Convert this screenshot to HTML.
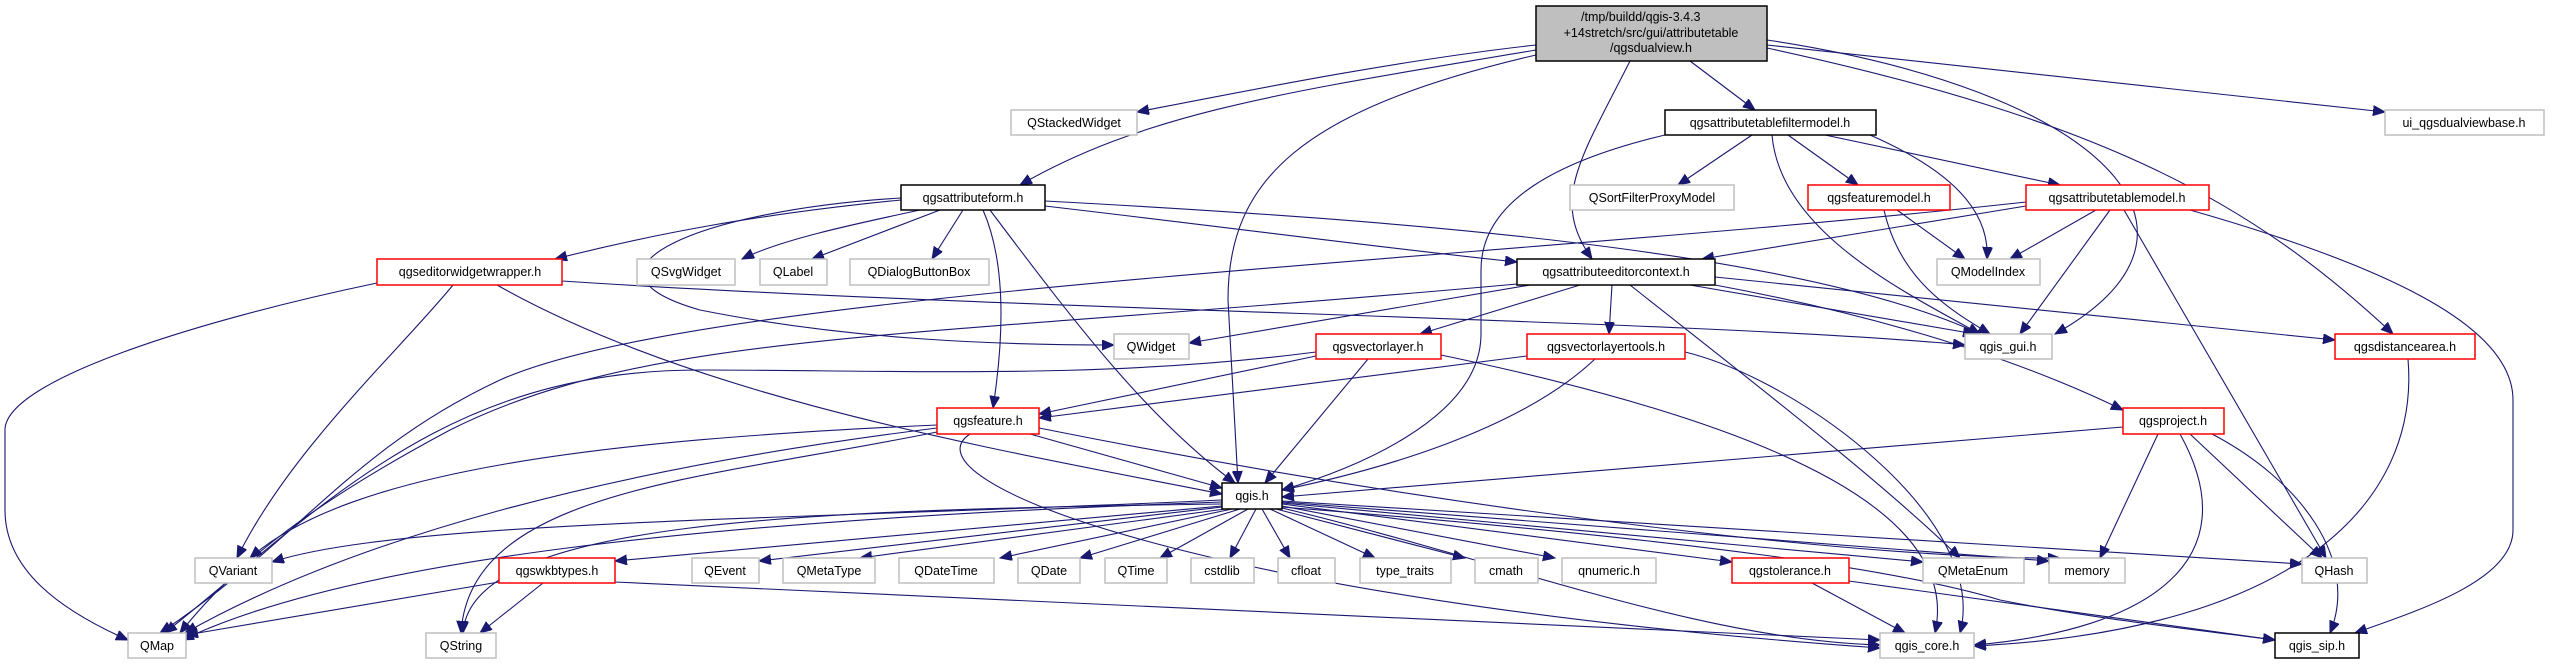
<!DOCTYPE html>
<html><head><meta charset="utf-8"><style>
html,body{margin:0;padding:0;background:#fff;}
svg{display:block;}
text{font-family:"Liberation Sans",sans-serif;font-size:12.5px;fill:#000;text-anchor:middle;}
.e{fill:none;stroke:#191970;stroke-width:1.1;marker-end:url(#a);}
.g{fill:#fff;stroke:#bfbfbf;stroke-width:1.5;}
.r{fill:#fff;stroke:#ff0000;stroke-width:1.5;}
.k{fill:#fff;stroke:#000;stroke-width:1.5;}
</style></head><body>
<svg width="2552" height="664" viewBox="0 0 2552 664" xmlns="http://www.w3.org/2000/svg">
<defs><marker id="a" markerUnits="userSpaceOnUse" markerWidth="14" markerHeight="12" refX="12" refY="5" orient="auto"><path d="M0,0 L12,5 L0,10 z" fill="#191970" stroke="#191970"/></marker></defs>
<g>
<path class="e" d="M1536,45 C1400,60 1250,90 1137,112"/>
<path class="e" d="M1536,50 C1300,90 1150,110 1020,185"/>
<path class="e" d="M1536,55 C1300,110 1228,180 1228,300 L1238,483"/>
<path class="e" d="M1630,61 C1580,160 1550,200 1592,259"/>
<path class="e" d="M1690,61 L1755,110"/>
<path class="e" d="M1767,45 C2000,70 2200,90 2385,112"/>
<path class="e" d="M1767,40 C2100,90 2240,230 2055,334"/>
<path class="e" d="M1767,48 C2100,120 2250,200 2393,334"/>
<path class="e" d="M901,200 C750,215 650,235 555,259"/>
<path class="e" d="M920,210 C850,225 780,240 742,259"/>
<path class="e" d="M940,210 L812,259"/>
<path class="e" d="M963,210 L932,259"/>
<path class="e" d="M1045,206 C1250,230 1400,250 1517,262"/>
<path class="e" d="M1045,201 C1400,220 1800,250 1980,334"/>
<path class="e" d="M901,198 C700,210 560,270 700,310 C850,340 1000,345 1114,345"/>
<path class="e" d="M983,210 C1005,260 1005,330 993,408"/>
<path class="e" d="M990,210 C1080,330 1150,420 1235,483"/>
<path class="e" d="M1752,135 L1678,185"/>
<path class="e" d="M1788,135 L1858,185"/>
<path class="e" d="M1825,135 L2060,185"/>
<path class="e" d="M1870,135 C1950,170 1990,210 1987,259"/>
<path class="e" d="M1772,135 C1780,230 1900,290 1980,334"/>
<path class="e" d="M1665,135 C1560,160 1481,200 1481,270 L1481,335 C1480,420 1350,470 1282,490"/>
<path class="e" d="M1897,210 L1965,259"/>
<path class="e" d="M1884,210 C1900,280 1950,310 1990,334"/>
<path class="e" d="M2026,206 L1702,259"/>
<path class="e" d="M2026,202 C1500,260 700,290 500,380 C350,450 300,540 160,633"/>
<path class="e" d="M2096,210 L2010,259"/>
<path class="e" d="M2110,210 L2020,334"/>
<path class="e" d="M2124,210 L2326,558"/>
<path class="e" d="M2190,210 C2400,270 2513,330 2513,400 L2513,530 C2513,580 2420,610 2355,633"/>
<path class="e" d="M562,281 C1000,310 1700,320 1965,345"/>
<path class="e" d="M453,285 C400,350 290,450 237,558"/>
<path class="e" d="M497,285 C700,400 1000,450 1222,494"/>
<path class="e" d="M377,283 C200,320 5,380 5,430 L5,510 C5,570 60,610 128,640"/>
<path class="e" d="M1530,285 L1189,343"/>
<path class="e" d="M1690,285 L1975,334"/>
<path class="e" d="M1580,285 L1420,334"/>
<path class="e" d="M1612,285 L1609,334"/>
<path class="e" d="M1715,277 L2335,340"/>
<path class="e" d="M1715,285 C1850,310 2000,350 2123,410"/>
<path class="e" d="M1630,285 C1750,380 1880,480 1960,558"/>
<path class="e" d="M1517,284 C900,340 650,330 450,430 C300,510 230,570 180,633"/>
<path class="e" d="M1316,352 C1100,380 900,370 700,370 C450,370 330,500 165,633"/>
<path class="e" d="M1316,356 L1039,414"/>
<path class="e" d="M1368,359 L1265,483"/>
<path class="e" d="M1441,355 C1800,430 1960,520 1935,633"/>
<path class="e" d="M1527,356 L1039,418"/>
<path class="e" d="M1595,359 C1520,430 1380,470 1282,490"/>
<path class="e" d="M1685,352 C1800,380 1990,520 1960,633"/>
<path class="e" d="M1030,434 L1222,488"/>
<path class="e" d="M937,425 C600,440 350,470 250,558"/>
<path class="e" d="M937,428 C600,470 350,540 185,633"/>
<path class="e" d="M937,432 C700,480 470,490 461,633"/>
<path class="e" d="M970,434 C900,480 1200,600 1880,648"/>
<path class="e" d="M1039,428 C1500,520 1900,560 2060,558"/>
<path class="e" d="M2123,427 L1282,497"/>
<path class="e" d="M2158,434 L2100,558"/>
<path class="e" d="M2190,434 L2322,558"/>
<path class="e" d="M2180,434 C2250,560 2150,630 1974,645"/>
<path class="e" d="M2212,434 C2300,480 2360,560 2330,633"/>
<path class="e" d="M2408,359 C2420,500 2300,630 1974,646"/>
<path class="e" d="M1222,500 C800,520 400,520 272,562"/>
<path class="e" d="M1222,502 C700,520 350,560 182,640"/>
<path class="e" d="M1222,504 C800,510 470,520 463,633"/>
<path class="e" d="M1222,506 L615,561"/>
<path class="e" d="M1222,507 L759,561"/>
<path class="e" d="M1225,509 L860,558"/>
<path class="e" d="M1232,509 L1000,558"/>
<path class="e" d="M1240,509 L1080,558"/>
<path class="e" d="M1248,509 L1160,558"/>
<path class="e" d="M1256,509 L1230,558"/>
<path class="e" d="M1262,509 L1290,558"/>
<path class="e" d="M1270,509 L1375,558"/>
<path class="e" d="M1276,509 L1465,558"/>
<path class="e" d="M1282,506 L1555,558"/>
<path class="e" d="M1282,504 L1732,562"/>
<path class="e" d="M1282,503 L1923,562"/>
<path class="e" d="M1282,502 L2049,561"/>
<path class="e" d="M1282,501 L2302,564"/>
<path class="e" d="M1282,508 C1500,560 1700,640 1880,645"/>
<path class="e" d="M1282,507 C1700,540 1900,570 2000,600 C2100,620 2200,630 2275,640"/>
<path class="e" d="M499,582 L186,635"/>
<path class="e" d="M543,583 L480,633"/>
<path class="e" d="M615,582 L1880,640"/>
<path class="e" d="M1812,583 L1905,633"/>
<path class="e" d="M1849,581 L2275,640"/>
</g>
<g>
<rect x="1536" y="6" width="231" height="55" fill="#bfbfbf" stroke="#000" stroke-width="1.5"/>
<text x="1581" y="21" style="text-anchor:start">/tmp/buildd/qgis-3.4.3</text>
<text x="1651" y="37">+14stretch/src/gui/attributetable</text>
<text x="1651" y="52">/qgsdualview.h</text>

<rect class="g" x="1011" y="110" width="126" height="25"/><text x="1074" y="127">QStackedWidget</text>
<rect class="k" x="1665" y="110" width="211" height="25"/><text x="1770" y="127">qgsattributetablefiltermodel.h</text>
<rect class="g" x="2385" y="110" width="159" height="25"/><text x="2464" y="127">ui_qgsdualviewbase.h</text>

<rect class="k" x="901" y="185" width="144" height="25"/><text x="973" y="202">qgsattributeform.h</text>
<rect class="g" x="1570" y="185" width="164" height="25"/><text x="1652" y="202">QSortFilterProxyModel</text>
<rect class="r" x="1808" y="185" width="142" height="25"/><text x="1879" y="202">qgsfeaturemodel.h</text>
<rect class="r" x="2026" y="185" width="183" height="25"/><text x="2117" y="202">qgsattributetablemodel.h</text>

<rect class="r" x="377" y="259" width="185" height="26"/><text x="470" y="276">qgseditorwidgetwrapper.h</text>
<rect class="g" x="637" y="259" width="98" height="26"/><text x="686" y="276">QSvgWidget</text>
<rect class="g" x="760" y="259" width="67" height="26"/><text x="793" y="276">QLabel</text>
<rect class="g" x="850" y="259" width="139" height="26"/><text x="919" y="276">QDialogButtonBox</text>
<rect class="k" x="1517" y="259" width="198" height="26"/><text x="1616" y="276">qgsattributeeditorcontext.h</text>
<rect class="g" x="1937" y="259" width="103" height="26"/><text x="1988" y="276">QModelIndex</text>

<rect class="g" x="1114" y="334" width="75" height="25"/><text x="1151" y="351">QWidget</text>
<rect class="r" x="1316" y="334" width="125" height="25"/><text x="1378" y="351">qgsvectorlayer.h</text>
<rect class="r" x="1527" y="334" width="158" height="25"/><text x="1606" y="351">qgsvectorlayertools.h</text>
<rect class="g" x="1965" y="334" width="87" height="25"/><text x="2008" y="351">qgis_gui.h</text>
<rect class="r" x="2335" y="334" width="140" height="25"/><text x="2405" y="351">qgsdistancearea.h</text>

<rect class="r" x="937" y="408" width="102" height="26"/><text x="988" y="425">qgsfeature.h</text>
<rect class="r" x="2123" y="408" width="101" height="26"/><text x="2173" y="425">qgsproject.h</text>

<rect class="k" x="1222" y="483" width="60" height="26"/><text x="1252" y="500">qgis.h</text>

<rect class="g" x="195" y="558" width="77" height="25"/><text x="233" y="575">QVariant</text>
<rect class="r" x="499" y="558" width="116" height="25"/><text x="557" y="575">qgswkbtypes.h</text>
<rect class="g" x="692" y="558" width="67" height="25"/><text x="725" y="575">QEvent</text>
<rect class="g" x="783" y="558" width="92" height="25"/><text x="829" y="575">QMetaType</text>
<rect class="g" x="899" y="558" width="95" height="25"/><text x="946" y="575">QDateTime</text>
<rect class="g" x="1018" y="558" width="62" height="25"/><text x="1049" y="575">QDate</text>
<rect class="g" x="1105" y="558" width="62" height="25"/><text x="1136" y="575">QTime</text>
<rect class="g" x="1191" y="558" width="63" height="25"/><text x="1222" y="575">cstdlib</text>
<rect class="g" x="1278" y="558" width="57" height="25"/><text x="1306" y="575">cfloat</text>
<rect class="g" x="1360" y="558" width="91" height="25"/><text x="1405" y="575">type_traits</text>
<rect class="g" x="1475" y="558" width="63" height="25"/><text x="1506" y="575">cmath</text>
<rect class="g" x="1562" y="558" width="94" height="25"/><text x="1609" y="575">qnumeric.h</text>
<rect class="r" x="1732" y="558" width="117" height="25"/><text x="1790" y="575">qgstolerance.h</text>
<rect class="g" x="1923" y="558" width="101" height="25"/><text x="1973" y="575">QMetaEnum</text>
<rect class="g" x="2049" y="558" width="76" height="25"/><text x="2087" y="575">memory</text>
<rect class="g" x="2302" y="558" width="65" height="25"/><text x="2334" y="575">QHash</text>

<rect class="g" x="128" y="633" width="58" height="25"/><text x="157" y="650">QMap</text>
<rect class="g" x="426" y="633" width="70" height="25"/><text x="461" y="650">QString</text>
<rect class="g" x="1880" y="633" width="94" height="25"/><text x="1927" y="650">qgis_core.h</text>
<rect class="k" x="2275" y="633" width="84" height="25"/><text x="2317" y="650">qgis_sip.h</text>
</g>
</svg>
</body></html>
